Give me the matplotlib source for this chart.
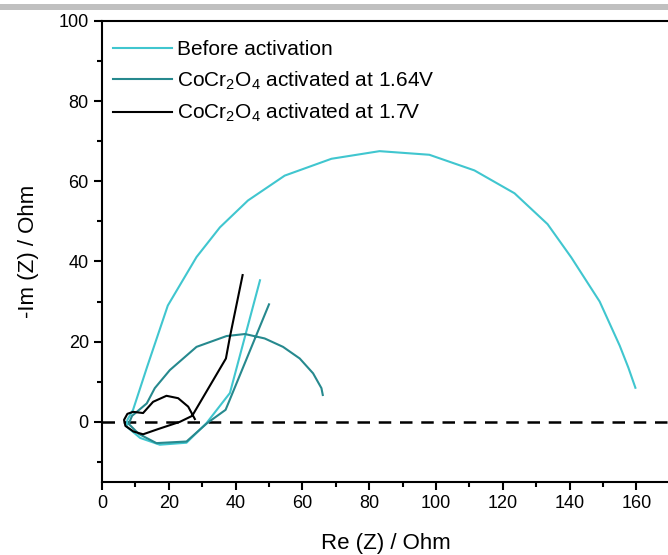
import matplotlib.pyplot as plt
from matplotlib.patches import Rectangle
from matplotlib.ticker import MultipleLocator

plt.rcParams['font.family'] = ['Liberation Sans', 'DejaVu Sans']
plt.rcParams['mathtext.default'] = 'regular'

# Before activation
re_before = [47.3, 38.3, 31.3, 25.3, 17.3, 11.4, 7.4, 7.6, 9.3, 13.5,
             19.7, 28.3, 35.3, 43.7, 54.7, 68.7, 83.1, 98.0, 111.5,
             123.5, 133.4, 140.5, 149.0, 155.0, 157.6, 159.7]
im_before = [35.3, 7.2, -0.3, -5.2, -5.7, -4.0, -1.2, 0.5, 3.0, 13.7,
             29.0, 41.1, 48.5, 55.2, 61.4, 65.6, 67.5, 66.6, 62.7,
             57.0, 49.3, 41.0, 30.0, 19.0, 13.5, 8.5]

# activated at 1.64 V
re_164 = [50.0, 38.0, 37.0, 31.5, 25.3, 16.3, 11.0, 8.0, 9.0, 13.4, 15.8, 20.3,
          28.3, 37.3, 42.8, 48.7, 54.2, 59.2, 63.2, 65.7, 66.1]
im_164 = [29.3, 5.0, 3.0, -0.3, -4.9, -5.3, -3.0, -0.5, 1.5, 4.6, 8.4, 12.9,
          18.7, 21.4, 21.9, 20.8, 18.7, 15.8, 12.1, 8.4, 6.7]

# activated at 1.7 V
re_17 = [27.8, 25.8, 22.8, 19.3, 15.3, 12.3, 9.3, 7.6, 6.6, 7.0, 9.4, 12.3,
         16.8, 23.3, 27.0, 37.1, 38.3, 42.1]
im_17 = [0.7, 3.8, 5.9, 6.5, 5.0, 2.2, 2.5, 2.0, 0.5, -1.0, -2.4, -3.1,
         -1.8, 0.0, 1.5, 15.8, 21.2, 36.6]

labels = ['Before activation',
          'CoCr$_2$O$_4$ activated at 1.64V',
          'CoCr$_2$O$_4$ activated at 1.7V']
colors = ['#40c6cf', '#26898e', '#000000']

fig = plt.figure(figsize=(6.68, 5.55), dpi=100)
fig.patches.append(Rectangle((0, 0.982), 1, 0.011, transform=fig.transFigure,
                             facecolor='#c0c0c0', edgecolor='none'))
ax = fig.add_axes([0.1527, 0.1315, 0.850, 0.831])

ax.axhline(0, color='black', lw=1.8, ls=(0, (5, 3.5)), zorder=1)
ax.plot(re_before, im_before, color=colors[0], lw=1.5, label=labels[0])
ax.plot(re_164, im_164, color=colors[1], lw=1.5, label=labels[1])
ax.plot(re_17, im_17, color=colors[2], lw=1.5, label=labels[2])

ax.set_xlim(0, 170)
ax.set_ylim(-15, 100)
ax.xaxis.set_major_locator(MultipleLocator(20))
ax.xaxis.set_minor_locator(MultipleLocator(10))
ax.yaxis.set_major_locator(MultipleLocator(20))
ax.yaxis.set_minor_locator(MultipleLocator(10))
ax.tick_params(which='major', direction='out', length=6, width=1.5, labelsize=13)
ax.tick_params(which='minor', direction='out', length=3.5, width=1.5)
for s in ['left', 'bottom', 'top']:
    ax.spines[s].set_linewidth(1.5)
ax.spines['right'].set_visible(False)

ax.set_xlabel('Re (Z) / Ohm', fontsize=16, labelpad=15)
ax.set_ylabel('-Im (Z) / Ohm', fontsize=16, labelpad=14)

ax.legend(loc='upper left', bbox_to_anchor=(-0.006, 0.99), frameon=False,
          fontsize=15, handlelength=2.8, handletextpad=0.25, labelspacing=0.5,
          borderaxespad=0.3)

fig.savefig('out.png', dpi=100)
